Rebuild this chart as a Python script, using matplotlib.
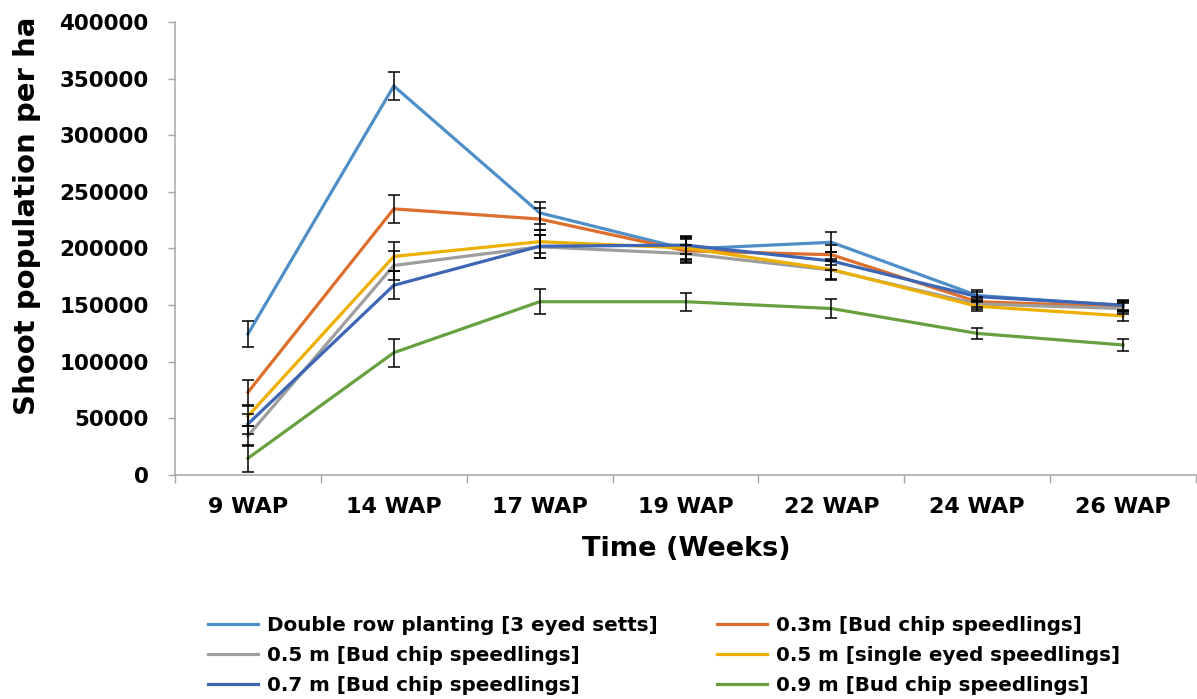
import matplotlib
matplotlib.use("Agg")
import matplotlib.pyplot as plt
import numpy as np

# Sampling times
categories = ["9 WAP", "14 WAP", "17 WAP", "19 WAP", "22 WAP", "24 WAP", "26 WAP"]

# Shoot population per ha for each planting treatment
double_row = [124500, 343500, 231500, 199500, 205500, 158500, 149500]
bud_03 = [73000, 235000, 226000, 198000, 194500, 153000, 148500]
bud_05 = [34500, 185000, 201500, 195500, 181000, 151000, 147000]
single_05 = [52000, 193000, 206000, 200500, 181500, 149000, 140500]
bud_07 = [45000, 167500, 202000, 203000, 189000, 157500, 150000]
bud_09 = [14700, 108000, 153000, 153000, 147000, 125000, 114800]

# Standard errors
err_double_row = [11500, 12500, 10000, 10000, 8800, 4500, 4500]
err_bud_03 = [11000, 12500, 10000, 10000, 8800, 4500, 4500]
err_bud_05 = [9000, 12500, 10000, 8000, 8000, 4500, 4500]
err_single_05 = [9000, 12500, 10000, 10000, 9000, 4500, 4500]
err_bud_07 = [9000, 12500, 10000, 8000, 8000, 4500, 4500]
err_bud_09 = [11800, 12500, 11000, 8000, 8800, 4900, 5000]

labels = [
    "Double row planting [3 eyed setts]",
    "0.3m [Bud chip speedlings]",
    "0.5 m [Bud chip speedlings]",
    "0.5 m [single eyed speedlings]",
    "0.7 m [Bud chip speedlings]",
    "0.9 m [Bud chip speedlings]",
]
series = [double_row, bud_03, bud_05, single_05, bud_07, bud_09]
errors = [err_double_row, err_bud_03, err_bud_05, err_single_05, err_bud_07, err_bud_09]
colors = ["#4F8FC8", "#DE6E2C", "#9E9E9E", "#EDB000", "#3D66B5", "#67A03F"]

plt.rcParams["font.family"] = ["DejaVu Sans"]

fig = plt.figure(figsize=(11.97, 6.99), dpi=100)
ax = fig.add_axes([0.1462, 0.3205, 0.853, 0.648])

x = np.arange(len(categories))
handles = []
for vals, col, lab in zip(series, colors, labels):
    (h,) = ax.plot(x, vals, color=col, lw=2.3, label=lab, zorder=2,
                   solid_joinstyle="miter")
    handles.append(h)
for vals, err in zip(series, errors):
    ax.errorbar(x, vals, yerr=err, fmt="none", ecolor="black", elinewidth=1.1,
                capsize=4.5, capthick=1.1, zorder=3)

ax.set_xlim(-0.5, len(categories) - 0.5)
ax.set_ylim(0, 400000)
ax.set_yticks(np.arange(0, 400001, 50000))
ax.set_yticklabels([str(v) for v in range(0, 400001, 50000)],
                   fontsize=15.5, fontweight="bold")
ax.set_xticks(x)
ax.set_xticklabels(categories, fontsize=16, fontweight="bold")
ax.set_xticks(np.arange(-0.5, len(categories), 1.0), minor=True)
ax.tick_params(axis="x", which="major", length=0, pad=16)
ax.tick_params(axis="x", which="minor", length=6, width=1, color="#a6a6a6",
               direction="out")
ax.tick_params(axis="y", length=5, width=1, color="#a6a6a6", pad=14)

for s in ["top", "right"]:
    ax.spines[s].set_visible(False)
for s in ["left", "bottom"]:
    ax.spines[s].set_color("#a6a6a6")
    ax.spines[s].set_linewidth(1.1)

fig.text(27 / 1197, 1 - 216 / 699, "Shoot population per ha", rotation=90,
         ha="center", va="center", fontsize=21, fontweight="bold")
fig.text(686 / 1197, 1 - 549 / 699, "Time (Weeks)", ha="center", va="center",
         fontsize=19.5, fontweight="bold")

# legend filled row by row in two columns
order = [0, 2, 4, 1, 3, 5]
fig.legend([handles[i] for i in order], [labels[i] for i in order],
           ncol=2, loc="upper left", bbox_to_anchor=(208 / 1197, 1 - 616 / 699),
           frameon=False, borderaxespad=0, borderpad=0,
           prop={"size": 14.3, "weight": "bold"}, handlelength=2.5,
           handletextpad=0.45, labelspacing=0.55, columnspacing=3.0)

fig.savefig("out.png", dpi=100)
